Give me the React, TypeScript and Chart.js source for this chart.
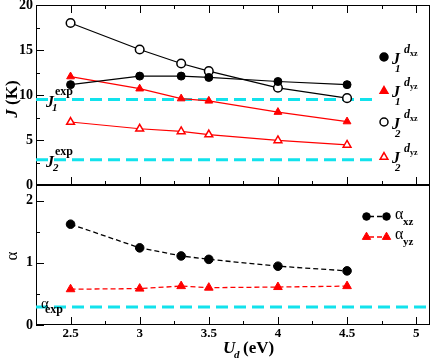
import React, { useEffect, useRef } from "react";
import { Chart, registerables } from "chart.js";

Chart.register(...registerables);

// ---------- data ----------
const uValues = [2.5, 3, 3.3, 3.5, 4, 4.5];
const j1Dxz = [11.15, 12.1, 12.1, 11.95, 11.5, 11.15];
const j1Dyz = [12.05, 10.7, 9.6, 9.35, 8.1, 7.05];
const j2Dxz = [18.0, 15.05, 13.5, 12.65, 10.8, 9.65];
const j2Dyz = [7.0, 6.25, 5.95, 5.6, 4.95, 4.45];
const alphaXz = [1.62, 1.24, 1.11, 1.055, 0.945, 0.87];
const alphaYz = [0.575, 0.585, 0.625, 0.6, 0.61, 0.625];
const j1Exp = 9.5;
const j2Exp = 2.8;
const alphaExp = 0.29;
const expRangeTop = [2.25, 4.7];
const expRangeBottom = [2.25, 5.1];
const xRange = [2.25, 5.1];
const jRange = [0, 20];
const alphaRange = [0, 2.25];

const SERIF = "'Liberation Serif', 'DejaVu Serif', serif";
const CYAN = "#12e2ec";
const RED = "#ff0000";

const pts = (ys: number[]) => uValues.map((x, i) => ({ x, y: ys[i] }));
const hline = (range: number[], y: number) => range.map((x) => ({ x, y }));

type Run = { t: string; f: string; dx?: number; dy?: number };
function drawRuns(ctx: CanvasRenderingContext2D, x: number, y: number, runs: Run[]) {
  let cx = x;
  for (const r of runs) {
    ctx.font = r.f;
    cx += r.dx || 0;
    ctx.fillText(r.t, cx, y + (r.dy || 0));
    cx += ctx.measureText(r.t).width;
  }
}

function marker(
  ctx: CanvasRenderingContext2D,
  style: string,
  x: number,
  y: number,
  r: number,
  fill: string,
  stroke: string,
  lw: number
) {
  ctx.save();
  ctx.beginPath();
  if (style === "circle") {
    ctx.arc(x, y, r, 0, Math.PI * 2);
  } else {
    let rad = 0;
    const step = (2 * Math.PI) / 3;
    ctx.moveTo(x + Math.sin(rad) * r, y - Math.cos(rad) * r);
    rad += step;
    ctx.lineTo(x + Math.sin(rad) * r, y - Math.cos(rad) * r);
    rad += step;
    ctx.lineTo(x + Math.sin(rad) * r, y - Math.cos(rad) * r);
    ctx.closePath();
  }
  ctx.fillStyle = fill;
  ctx.fill();
  ctx.lineWidth = lw;
  ctx.strokeStyle = stroke;
  ctx.stroke();
  ctx.restore();
}

function drawFrameTicks(
  chart: any,
  yMinorStep: number,
  yMajorStep: number,
  xTop: boolean
) {
  const ctx: CanvasRenderingContext2D = chart.ctx;
  const a = chart.chartArea;
  const xs = chart.scales.x;
  const ys = chart.scales.y;
  ctx.save();
  ctx.strokeStyle = "#000";
  ctx.lineWidth = 1;
  ctx.strokeRect(a.left + 0.5, a.top + 0.5, a.right - a.left - 1, a.bottom - a.top - 1);
  ctx.beginPath();
  for (let v = ys.min; v <= ys.max + 1e-9; v += yMinorStep) {
    const vv = Math.round(v * 1000) / 1000;
    const major = Math.abs(vv / yMajorStep - Math.round(vv / yMajorStep)) < 1e-6;
    const py = Math.round(ys.getPixelForValue(vv)) + 0.5;
    const len = major ? 8 : 4;
    ctx.moveTo(a.left, py);
    ctx.lineTo(a.left + len, py);
  }
  for (let v = 2.5; v <= xs.max + 1e-9; v += 0.25) {
    const vv = Math.round(v * 1000) / 1000;
    const major = Math.abs(vv * 2 - Math.round(vv * 2)) < 1e-6;
    const px = Math.round(xs.getPixelForValue(vv)) + 0.5;
    const len = major ? 8 : 4;
    ctx.moveTo(px, a.bottom);
    ctx.lineTo(px, a.bottom - len);
    if (xTop) {
      ctx.moveTo(px, a.top);
      ctx.lineTo(px, a.top + len);
    }
  }
  ctx.stroke();
  ctx.restore();
}

// page y = canvas y - OFF
const OFF = 20;
const CW = 436;
const CH = 382;

const topPlugin = {
  id: "topDecor",
  beforeDatasetsDraw(chart: any) {
    drawFrameTicks(chart, 2.5, 5, true);
  },
  afterDraw(chart: any) {
    const ctx: CanvasRenderingContext2D = chart.ctx;
    ctx.save();
    ctx.fillStyle = "#000";
    ctx.textBaseline = "alphabetic";
    ctx.textAlign = "left";
    // exp labels
    const ys = chart.scales.y;
    const y1 = ys.getPixelForValue(j1Exp);
    const y2 = ys.getPixelForValue(j2Exp);
    drawRuns(ctx, 46, y1 + 7, [{ t: "J", f: `italic bold 16px ${SERIF}` }]);
    drawRuns(ctx, 52, y1 + 11, [{ t: "1", f: `italic bold 11px ${SERIF}` }]);
    drawRuns(ctx, 55, y1 - 5, [{ t: "exp", f: `bold 12px ${SERIF}` }]);
    drawRuns(ctx, 46, y2 + 7, [{ t: "J", f: `italic bold 16px ${SERIF}` }]);
    drawRuns(ctx, 53, y2 + 11, [{ t: "2", f: `italic bold 11px ${SERIF}` }]);
    drawRuns(ctx, 55, y2 - 5, [{ t: "exp", f: `bold 12px ${SERIF}` }]);

    // legend
    const items = [
      { style: "circle", fill: "#000", stroke: "#000", sub: "1", ss: "xz" },
      { style: "triangle", fill: RED, stroke: RED, sub: "1", ss: "yz" },
      { style: "circle", fill: "#fff", stroke: "#000", sub: "2", ss: "xz" },
      { style: "triangle", fill: "#fff", stroke: RED, sub: "2", ss: "yz" },
    ];
    const ly = [57, 90, 122, 156];
    items.forEach((it, i) => {
      const yy = ly[i] + OFF;
      if (it.style === "circle") marker(ctx, "circle", 384, yy, 4, it.fill, it.stroke, 1.5);
      else marker(ctx, "triangle", 384, yy + 1, 4.5, it.fill, it.stroke, 1.5);
      ctx.fillStyle = "#000";
      drawRuns(ctx, 392, yy + 7, [{ t: "J", f: `italic bold 16px ${SERIF}` }]);
      drawRuns(ctx, 395, yy + 15, [{ t: it.sub, f: `italic bold 11px ${SERIF}` }]);
      drawRuns(ctx, 404, yy - 4, [{ t: "d", f: `italic bold 12px ${SERIF}` }]);
      drawRuns(ctx, 410, yy - 1, [{ t: it.ss, f: `bold 8px ${SERIF}` }]);
    });

    // y title
    ctx.save();
    ctx.translate(17, 99 + OFF);
    ctx.rotate(-Math.PI / 2);
    ctx.font = `italic bold 17px ${SERIF}`;
    const wJ = ctx.measureText("J").width;
    ctx.font = `bold 17px ${SERIF}`;
    const wK = ctx.measureText(" (K)").width;
    const start = -(wJ + wK) / 2;
    drawRuns(ctx, start, 0, [
      { t: "J", f: `italic bold 17px ${SERIF}` },
      { t: " (K)", f: `bold 17px ${SERIF}` },
    ]);
    ctx.restore();
    ctx.restore();
  },
};

const bottomPlugin = {
  id: "bottomDecor",
  beforeDatasetsDraw(chart: any) {
    drawFrameTicks(chart, 0.5, 1, false);
  },
  afterDraw(chart: any) {
    const ctx: CanvasRenderingContext2D = chart.ctx;
    ctx.save();
    ctx.fillStyle = "#000";
    ctx.textAlign = "left";
    ctx.textBaseline = "alphabetic";
    const ys = chart.scales.y;
    const ye = ys.getPixelForValue(alphaExp);
    drawRuns(ctx, 41, ye + 1, [{ t: "α", f: `15px ${SERIF}` }]);
    drawRuns(ctx, 45, ye + 6, [{ t: "exp", f: `bold 12px ${SERIF}` }]);

    // legend
    const rows = [
      { style: "circle", color: "#000", sub: "xz", y: 216.5 },
      { style: "triangle", color: RED, sub: "yz", y: 237 },
    ];
    rows.forEach((r) => {
      const yy = r.y + OFF;
      ctx.save();
      ctx.strokeStyle = r.color;
      ctx.lineWidth = 1.3;
      ctx.setLineDash([5, 3]);
      ctx.lineDashOffset = -2;
      ctx.beginPath();
      ctx.moveTo(367, yy);
      ctx.lineTo(386, yy);
      ctx.stroke();
      ctx.restore();
      if (r.style === "circle") {
        marker(ctx, "circle", 366.5, yy, 3.8, r.color, r.color, 1);
        marker(ctx, "circle", 386.5, yy, 3.8, r.color, r.color, 1);
      } else {
        marker(ctx, "triangle", 366.5, yy, 4.8, r.color, r.color, 1);
        marker(ctx, "triangle", 386.5, yy, 4.8, r.color, r.color, 1);
      }
      ctx.fillStyle = "#000";
      drawRuns(ctx, 395, yy + 2, [{ t: "α", f: `16px ${SERIF}` }]);
      drawRuns(ctx, 403, yy + 8, [{ t: r.sub, f: `bold 11px ${SERIF}` }]);
    });

    // y title
    ctx.save();
    ctx.translate(17, 256 + OFF);
    ctx.rotate(-Math.PI / 2);
    ctx.textAlign = "center";
    ctx.font = `17px ${SERIF}`;
    ctx.fillText("α", 0, 0);
    ctx.restore();

    // x title
    drawRuns(ctx, 223, 353 + OFF, [{ t: "U", f: `italic bold 17px ${SERIF}` }]);
    drawRuns(ctx, 234, 358 + OFF, [{ t: "d", f: `italic bold 11px ${SERIF}` }]);
    drawRuns(ctx, 243, 353 + OFF, [{ t: "(eV)", f: `bold 17px ${SERIF}` }]);
    ctx.restore();
  },
};

function baseYScale(min: number, max: number, step: number, size: number) {
  return {
    type: "linear" as const,
    min,
    max,
    grid: { display: false, drawTicks: false },
    border: { display: false },
    ticks: {
      stepSize: step,
      includeBounds: false,
      color: "#000",
      padding: 3,
      font: { family: SERIF, weight: "bold" as const, size },
      callback: (v: any) => String(Number(v)),
    },
    afterFit: (s: any) => {
      s.width = 36;
    },
  };
}

const lineDs = (label: string, ys: number[], style: string, color: string, fill: string, r: number) => ({
  label,
  data: pts(ys),
  showLine: true,
  borderColor: color,
  borderWidth: 1.2,
  pointStyle: style,
  pointRadius: r,
  pointBackgroundColor: fill,
  pointBorderColor: color,
  pointBorderWidth: fill === "#fff" ? 1.5 : 1,
  order: 1,
});

const cyanDs = (label: string, range: number[], y: number) => ({
  label,
  data: hline(range, y),
  showLine: true,
  borderColor: CYAN,
  borderWidth: 3,
  borderDash: [12, 6],
  pointRadius: 0,
  order: 10,
});

export default function App() {
  const topRef = useRef<HTMLCanvasElement>(null);
  const botRef = useRef<HTMLCanvasElement>(null);

  useEffect(() => {
    const common = {
      animation: false as const,
      responsive: false,
      plugins: { legend: { display: false }, tooltip: { enabled: false } },
      events: [] as any[],
    };
    const top = new Chart(topRef.current!, {
      type: "scatter",
      data: {
        datasets: [
          cyanDs("J1 exp", expRangeTop, j1Exp),
          cyanDs("J2 exp", expRangeTop, j2Exp),
          lineDs("J1 dxz", j1Dxz, "circle", "#000", "#000", 4),
          lineDs("J1 dyz", j1Dyz, "triangle", RED, RED, 4.5),
          lineDs("J2 dxz", j2Dxz, "circle", "#000", "#fff", 4.3),
          lineDs("J2 dyz", j2Dyz, "triangle", RED, "#fff", 4.5),
        ] as any,
      },
      options: {
        ...common,
        layout: { padding: { left: 0, top: 5 + OFF, right: 3, bottom: CH - (185 + OFF) } },
        scales: {
          x: { type: "linear", min: xRange[0], max: xRange[1], display: false },
          y: baseYScale(jRange[0], jRange[1], 5, 14),
        },
      } as any,
      plugins: [topPlugin],
    });

    const bottomLine = (label: string, ys: number[], style: string, color: string, r: number) => ({
      ...lineDs(label, ys, style, color, color, r),
      borderDash: [5, 3],
      borderWidth: 1.3,
    });

    const bot = new Chart(botRef.current!, {
      type: "scatter",
      data: {
        datasets: [
          cyanDs("alpha exp", expRangeBottom, alphaExp),
          bottomLine("alpha xz", alphaXz, "circle", "#000", 4.3),
          bottomLine("alpha yz", alphaYz, "triangle", RED, 5),
        ] as any,
      },
      options: {
        ...common,
        layout: { padding: { left: 0, top: 185 + OFF, right: 3, bottom: 0 } },
        scales: {
          x: {
            type: "linear",
            min: xRange[0],
            max: xRange[1],
            grid: { display: false, drawTicks: false },
            border: { display: false },
            ticks: {
              stepSize: 0.5,
              includeBounds: false,
              color: "#000",
              padding: 1,
              maxRotation: 0,
              font: { family: SERIF, weight: "bold", size: 13 },
              callback: (v: any) => String(Number(v)),
            },
            afterFit: (s: any) => {
              s.height = CH - (325 + OFF);
            },
          },
          y: baseYScale(alphaRange[0], alphaRange[1], 1, 14),
        },
      } as any,
      plugins: [bottomPlugin],
    });

    return () => {
      top.destroy();
      bot.destroy();
    };
  }, []);

  const cstyle: React.CSSProperties = { position: "absolute", left: 0, top: -OFF, width: CW, height: CH };
  return (
    <div style={{ position: "fixed", left: 0, top: 0, width: 436, height: 362, background: "#fff", overflow: "hidden" }}>
      <canvas ref={botRef} width={CW} height={CH} style={cstyle} />
      <canvas ref={topRef} width={CW} height={CH} style={cstyle} />
    </div>
  );
}
